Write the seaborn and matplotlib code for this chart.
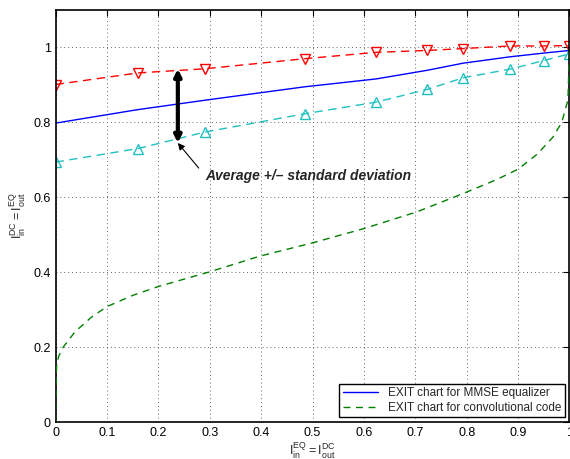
import numpy as np
import pandas as pd
import matplotlib
matplotlib.use("Agg")
import matplotlib.pyplot as plt
import seaborn as sns

# x positions of the simulated points (I_in^EQ)
x_points = [0.0, 0.16, 0.29, 0.485, 0.624, 0.723, 0.793, 0.884, 0.95, 1.0]
mmse_avg = [0.798, 0.834, 0.859, 0.895, 0.916, 0.939, 0.958, 0.975, 0.985, 0.992]
mmse_upper = [0.901, 0.932, 0.943, 0.970, 0.987, 0.992, 0.997, 1.004, 1.004, 1.005]
mmse_lower = [0.694, 0.730, 0.774, 0.823, 0.854, 0.888, 0.919, 0.942, 0.965, 0.983]

# convolutional code curve
code_x = [0.0, 0.0005, 0.002, 0.006, 0.015, 0.038, 0.07, 0.10, 0.15, 0.203, 0.30, 0.398,
          0.502, 0.599, 0.703, 0.793, 0.858, 0.90, 0.938, 0.968, 0.985, 0.997, 1.0]
code_y = [0.0, 0.06, 0.147, 0.175, 0.20, 0.241, 0.28, 0.308, 0.338, 0.363, 0.401, 0.443,
          0.479, 0.516, 0.561, 0.61, 0.647, 0.675, 0.716, 0.761, 0.80, 0.86, 1.0]

x_ticks = [0, 0.1, 0.2, 0.3, 0.4, 0.5, 0.6, 0.7, 0.8, 0.9, 1]
y_ticks = [0, 0.2, 0.4, 0.6, 0.8, 1]

sns.set_style("white")
plt.rcParams["font.family"] = ["Liberation Sans", "DejaVu Sans"]

fig = plt.figure(figsize=(5.7, 4.59), dpi=100)
ax = fig.add_axes([0.0974, 0.0806, 0.9017, 0.8976])

df = pd.DataFrame({"x": x_points, "avg": mmse_avg, "up": mmse_upper, "low": mmse_lower})
code = pd.DataFrame({"x": code_x, "y": code_y})

sns.lineplot(data=df, x="x", y="avg", ax=ax, color="#0000ff", lw=1.0,
             label="EXIT chart for MMSE equalizer")
sns.lineplot(data=code, x="x", y="y", ax=ax, color="#008000", lw=1.0,
             dashes=False, label="EXIT chart for convolutional code")
ax.lines[-1].set_linestyle((0, (5, 4)))
ax.lines[-1].set_zorder(3)
sns.lineplot(data=df, x="x", y="up", ax=ax, color="#ff0000", lw=1.0,
             marker="v", markersize=7, markerfacecolor="none",
             markeredgecolor="#ff0000", markeredgewidth=1.0)
ax.lines[-1].set_linestyle((0, (6, 4)))
sns.lineplot(data=df, x="x", y="low", ax=ax, color="#20c0c0", lw=1.0,
             marker="^", markersize=7, markerfacecolor="none",
             markeredgecolor="#20c0c0", markeredgewidth=1.0)
ax.lines[-1].set_linestyle((0, (6, 4)))

ax.set_xlim(0, 1)
ax.set_ylim(0, 1.1)
ax.set_xticks(x_ticks)
ax.set_xticklabels(["0", "0.1", "0.2", "0.3", "0.4", "0.5", "0.6", "0.7", "0.8", "0.9", "1"])
ax.set_yticks(y_ticks)
ax.set_yticklabels(["0", "0.2", "0.4", "0.6", "0.8", "1"])
ax.tick_params(direction="in", length=4, width=0.8, labelsize=9, top=True, right=True,
               colors="black")
ax.grid(True, linestyle=(0, (1, 3)), color="#666666", linewidth=0.7)
for s in ax.spines.values():
    s.set_color("black")
    s.set_linewidth(1.2)

ax.set_xlabel(r"$\mathregular{I_{in}^{EQ}= I_{out}^{DC}}$", fontsize=9, labelpad=1)
ax.set_ylabel(r"$\mathregular{I_{in}^{DC}= I_{out}^{EQ}}$", fontsize=9, labelpad=4)

# average +/- standard deviation marker
ax.annotate("", xy=(0.238, 0.943), xytext=(0.238, 0.745),
            arrowprops=dict(arrowstyle="<|-|>", color="black", lw=3,
                            mutation_scale=10, shrinkA=0, shrinkB=0))
ax.annotate("Average +/\u2013 standard deviation", xy=(0.238, 0.745),
            xytext=(0.292, 0.656), fontsize=10, fontweight="bold", fontstyle="italic",
            va="center", ha="left",
            arrowprops=dict(arrowstyle="-|>", color="black", lw=0.8,
                            mutation_scale=10, shrinkA=4, shrinkB=0,
                            relpos=(0, 0.5)))

leg = ax.legend(loc="lower right", fontsize=8.5, frameon=True, fancybox=False,
                edgecolor="black", framealpha=1, borderpad=0.3, labelspacing=0.2,
                handlelength=3, borderaxespad=0.4)
leg.get_frame().set_linewidth(1.0)

fig.savefig("out.png", dpi=100)
